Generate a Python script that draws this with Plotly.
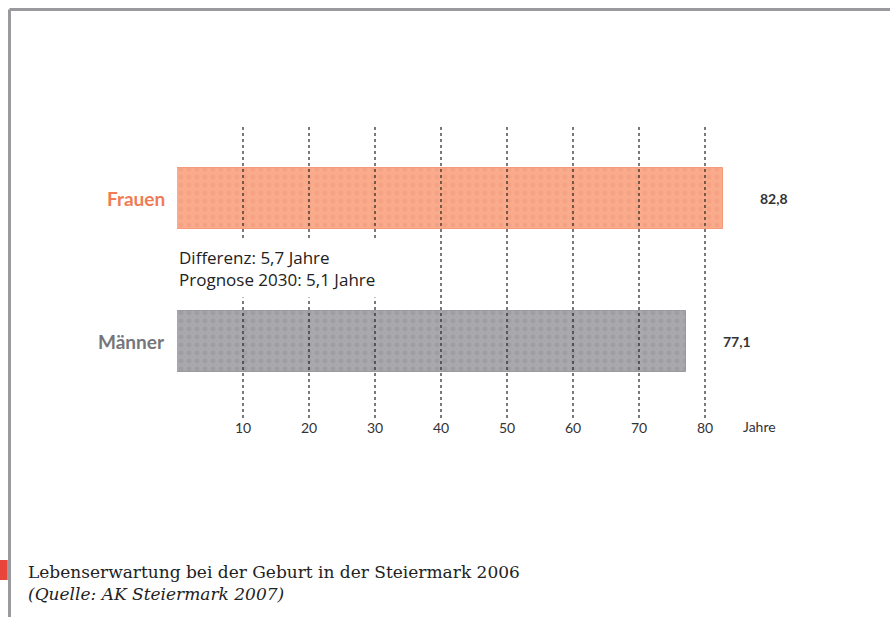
import plotly.graph_objects as go

# data
categories = ["Männer", "Frauen"]
values = [77.1, 82.8]
value_labels = ["77,1", "82,8"]
bar_colors = ["#A9A8AC", "#F9AB8C"]
dot_colors = ["#96959A", "#F2997B"]
edge_colors = ["#9A999E", "#F59A7B"]
label_colors = ["#76757A", "#F07B55"]
tick_vals = [10, 20, 30, 40, 50, 60, 70, 80]
tick_text = ["10", "20", "30", "40", "50", "60", "70", "80"]
note_lines = ["Differenz: 5,7 Jahre", "Prognose 2030: 5,1 Jahre"]
caption = "Lebenserwartung bei der Geburt in der Steiermark 2006"
source = "(Quelle: AK Steiermark 2007)"

sans = "Lato, Open Sans, sans-serif"
note_font = "Open Sans, sans-serif"
serif = "DejaVu Serif, Liberation Serif, serif"

fig = go.Figure()
for i, cat in enumerate(categories):
    fig.add_trace(go.Bar(
        x=[values[i]], y=[i], orientation="h", width=0.425,
        marker=dict(color=bar_colors[i],
                    line=dict(color=edge_colors[i], width=1),
                    pattern=dict(shape=".", fgcolor=dot_colors[i], bgcolor=bar_colors[i],
                                 size=8, solidity=0.3)),
        hoverinfo="skip", showlegend=False,
    ))

# dotted grid lines drawn over the bars
shapes = []
for v in tick_vals:
    shapes.append(dict(type="line", xref="x", yref="paper", x0=v, x1=v, y0=0, y1=1,
                       line=dict(color="#222222", width=1.2, dash="dot"), layer="above"))

# frame around the figure (paper units: plot area is 660 x 293 px)
shapes.append(dict(type="line", xref="paper", yref="paper", x0=-0.2538, x1=1.1, y0=1.394, y1=1.394,
                   line=dict(color="#9A9A9E", width=3)))
shapes.append(dict(type="line", xref="paper", yref="paper", x0=-0.2538, x1=-0.2538, y0=1.394, y1=-0.7,
                   line=dict(color="#9A9A9E", width=3)))
# small red marker beside the caption
shapes.append(dict(type="rect", xref="paper", yref="paper", x0=-0.275, x1=-0.2565, y0=-0.4846, y1=-0.553,
                   fillcolor="#E8453C", line=dict(width=0)))

annotations = []
for i, cat in enumerate(categories):
    annotations.append(dict(x=0, y=i, xref="x", yref="y", text="<b>" + cat + "</b>",
                            xanchor="right", yanchor="middle", xshift=-10, showarrow=False,
                            font=dict(family=sans, size=19, color=label_colors[i])))
    annotations.append(dict(x=values[i], y=i, xref="x", yref="y", text="<b>" + value_labels[i] + "</b>",
                            xanchor="left", yanchor="middle", xshift=35, showarrow=False,
                            font=dict(family=sans, size=14, color="#333333")))

annotations.append(dict(x=0, y=0.5, xref="x", yref="y", text="<br>".join(note_lines),
                        xanchor="left", yanchor="middle", xshift=-5, yshift=2, showarrow=False,
                        align="left", bgcolor="white", borderpad=6,
                        font=dict(family=note_font, size=17, color="#222222")))
annotations.append(dict(x=85.5, y=0, xref="x", yref="paper", text="Jahre",
                        xanchor="left", yanchor="top", yshift=2, showarrow=False,
                        font=dict(family=sans, size=14, color="#333333")))
annotations.append(dict(x=-0.2288, y=-0.563, xref="paper", yref="paper",
                        text=caption + "<br><i>" + source + "</i>",
                        xanchor="left", yanchor="middle", showarrow=False, align="left",
                        font=dict(family=serif, size=17, color="#222222")))

fig.update_layout(
    width=890, height=617,
    margin=dict(l=177, r=53, t=125, b=199),
    paper_bgcolor="white", plot_bgcolor="white",
    bargap=0,
    shapes=shapes, annotations=annotations,
    xaxis=dict(range=[0, 100], tickvals=tick_vals, ticktext=tick_text, showgrid=False,
               zeroline=False, showline=False, ticks="",
               tickfont=dict(family=sans, size=14, color="#333333")),
    yaxis=dict(range=[-0.53, 1.512], showgrid=False, zeroline=False, showticklabels=False,
               showline=False, ticks=""),
)

fig.write_html("out.html", config={"displayModeBar": False},
               post_script="document.body.style.margin='0';")
